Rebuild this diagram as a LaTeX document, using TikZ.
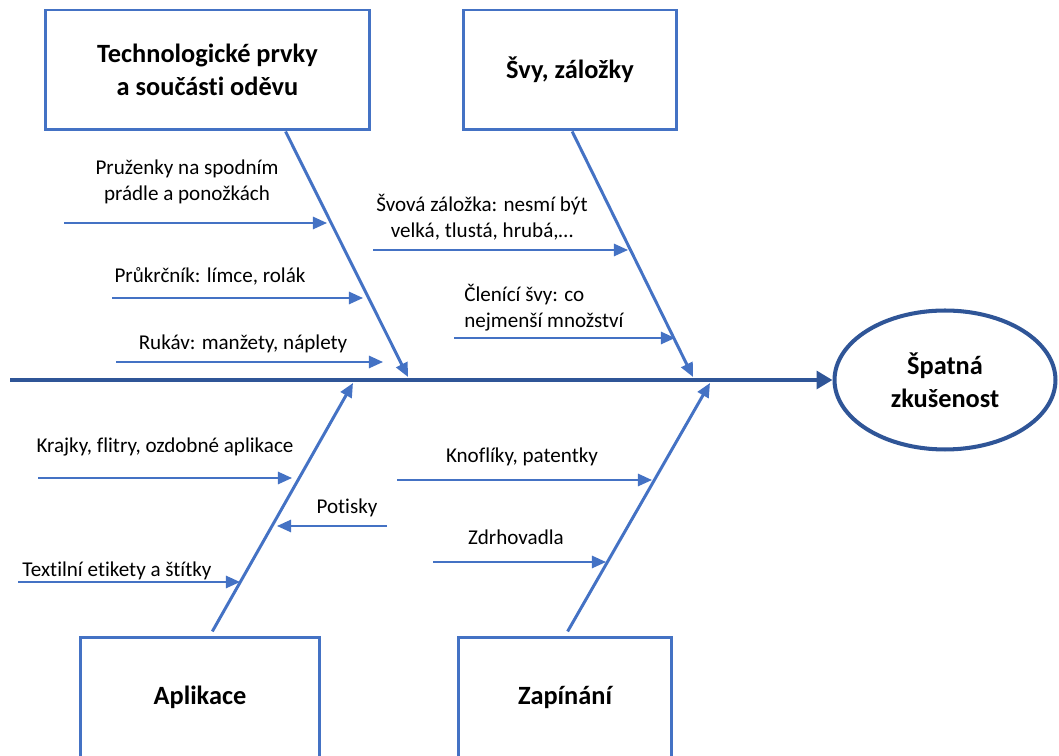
\documentclass[tikz,border=0pt]{standalone}
\usepackage{fontspec}
\setmainfont[Ligatures=NoCommon]{Carlito}
\usetikzlibrary{arrows.meta,calc,shapes.geometric}
\definecolor{boneblue}{HTML}{4472C4}
\definecolor{spineblue}{HTML}{2F5597}
\tikzset{
    catbox/.style={draw=boneblue, line width=1.7pt, align=center, font=\fontsize{15}{19}\selectfont\bfseries},
    causetext/.style={font=\fontsize{12}{15}\selectfont, inner sep=0pt},
    bone/.style={draw=boneblue, line width=1.7pt, ->},
    twig/.style={draw=boneblue, line width=1.1pt, ->}
}

\begin{document}
\begin{tikzpicture}[x=0.02cm, y=-0.02cm, >={Triangle[length=8pt,width=7pt]}]
\def\spy{380}     % y of the spine
\def\boxh{2.4cm}  % height of category boxes
\useasboundingbox (0,0) rectangle (1059,756);
\clip (0,0) rectangle (1059,756);
% categories
\node[catbox, minimum width=6.5cm, minimum height=\boxh] (tech) at (207.5,70) {Technologické prvky\\a součásti oděvu};
\node[catbox, minimum width=4.28cm, minimum height=\boxh] (svy) at (570,70) {Švy, záložky};
\node[catbox, minimum width=4.8cm, minimum height=3.3cm] (apl) at (200,720) {\raisebox{3.8ex}{Aplikace}};
\node[catbox, minimum width=4.28cm, minimum height=3.3cm] (zap) at (565,720) {\raisebox{3.8ex}{Zapínání}};
% effect
\node[ellipse, draw=spineblue, line width=2.3pt, minimum width=4.42cm, minimum height=2.78cm, align=center,
      font=\fontsize{15}{19}\selectfont\bfseries] (goal) at (945,\spy) {Špatná\\zkušenost};
% spine
\coordinate (tail) at (10,\spy);
\draw[draw=spineblue, line width=2.6pt, -{Triangle[length=9pt,width=10pt]}] (tail) -- (goal.west);
% bones
\coordinate (j1) at (408,\spy-3); \coordinate (j2) at (693,\spy-3);
\coordinate (j3) at (353,\spy+3); \coordinate (j4) at (710,\spy+3);
\draw[bone] ($(tech.south west)!0.738!(tech.south east)$) -- (j1);
\draw[bone] ($(svy.south west)!0.51!(svy.south east)$) -- (j2);
\draw[bone, shorten <=3pt] ($(apl.north west)!0.54!(apl.north east)$) -- (j3);
\draw[bone, shorten <=3pt] ($(zap.north west)!0.5!(zap.north east)$) -- (j4);
% sub-causes: start x / end x / y / label x / label y / anchor / align / text
\foreach \xa/\xb/\yy/\lx/\ly/\an/\al/\txt [count=\i] in {
    64/327/223/187/182/center/center/{Pruženky na spodním\\prádle a ponožkách},
    112/363/298/210/276/center/center/{Průkrčník: límce, rolák},
    116/383/362/243/344/center/center/{Rukáv: manžety, náplety},
    373/628/250/482/217/center/center/{Švová záložka: nesmí být\\velká, tlustá, hrubá,…},
    454/675/338/464/308/west/left/{Členící švy: co\\nejmenší množství},
    38/292/478/165/447/center/center/{Krajky, flitry, ozdobné aplikace},
    387/277/526/347/508/center/center/{Potisky},
    18/240/582/117/571/center/center/{Textilní etikety a štítky},
    397/652/480/522/457/center/center/{Knoflíky, patentky},
    433/606/562/516/537/center/center/{Zdrhovadla}} {%
\node[causetext, anchor=\an, align=\al] (c\i) at (\lx,\ly) {\txt};
\coordinate (s\i) at (\xa,\yy); \coordinate (e\i) at (\xb,\yy);
\draw[twig] (s\i) -- (e\i);
};
\end{tikzpicture}
\end{document}
